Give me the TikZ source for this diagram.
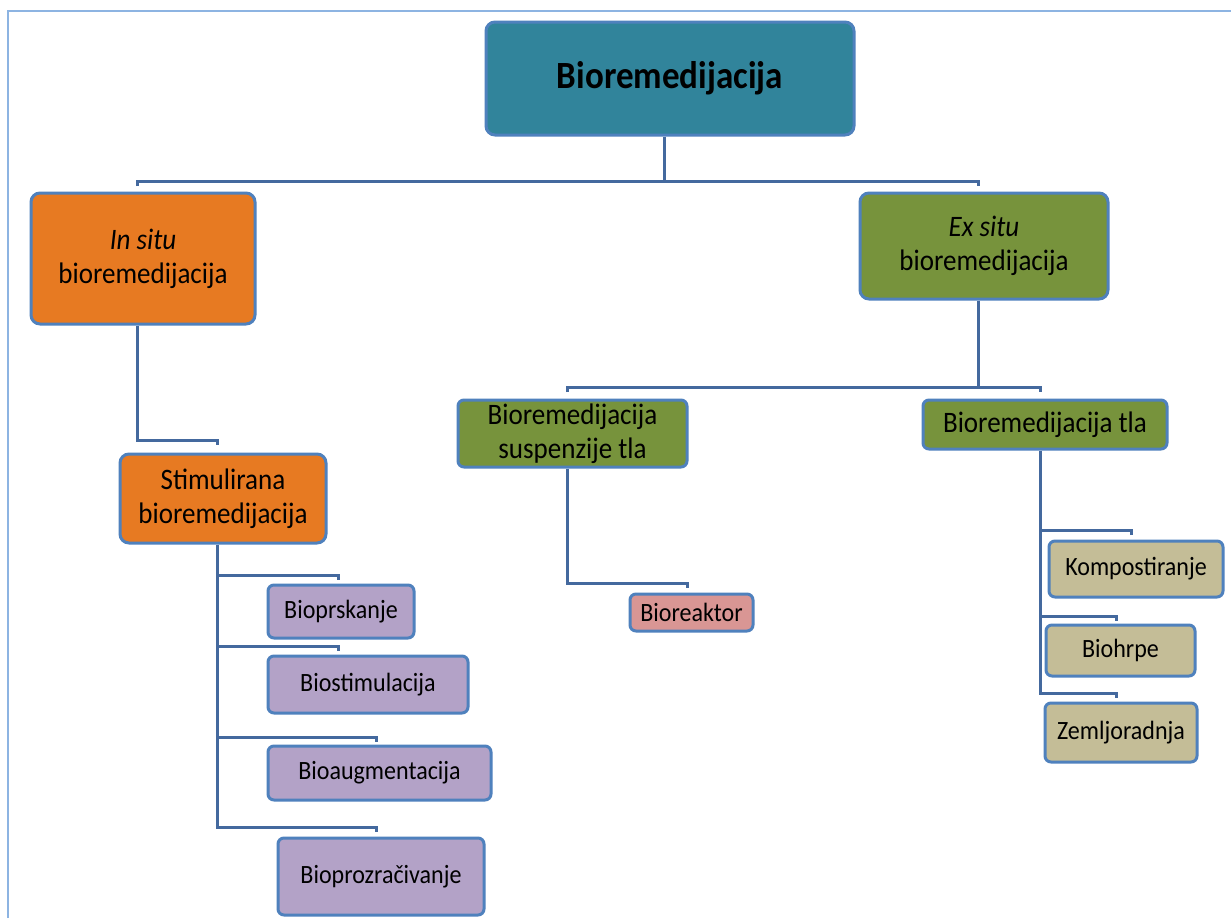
\documentclass[tikz,border=0pt]{standalone}
\usepackage{fontspec}
\setmainfont{Carlito}[FakeStretch=0.91]
\definecolor{bordcol}{HTML}{4F81BD}
\definecolor{conncol}{HTML}{44699E}
\definecolor{pagecol}{HTML}{8DB4E2}
\definecolor{teal}{HTML}{31849B}
\definecolor{orng}{HTML}{E77A22}
\definecolor{olive}{HTML}{77933C}
\definecolor{lilac}{HTML}{B3A2C7}
\definecolor{pinkc}{HTML}{D99694}
\definecolor{tan}{HTML}{C4BD97}
\tikzset{
  box/.style={draw=bordcol, line width=3pt, rounded corners=9pt, align=center, text=black, inner sep=2pt},
  lvl/.style={box, font=\fontsize{29.7}{34}\selectfont},
  leaf/.style={box, rounded corners=6pt, font=\fontsize{26.4}{30}\selectfont},
  conn/.style={draw=conncol, line width=3pt, line join=miter},
}
\begin{document}
\begin{tikzpicture}[x=1pt,y=-1pt]
\useasboundingbox (0,0) rectangle (1231,918);
\fill[white] (0,0) rectangle (1231,918);
\draw[pagecol, line width=2pt] (8,918) -- (8,11) -- (1231,11);

% nodes
\node[box, fill=teal, minimum width=368pt, minimum height=113pt, font=\fontsize{38.5}{44}\selectfont\bfseries] (root) at (670,78.5) {Bioremedijacija};
\node[lvl, fill=orng, minimum width=224pt, minimum height=131pt] (insitu) at (143,258.5) {\textit{In situ}\\bioremedijacija};
\node[lvl, fill=olive, minimum width=248pt, minimum height=106pt] (exsitu) at (984,246) {\textit{Ex situ}\\bioremedijacija};
\node[lvl, fill=orng, minimum width=206pt, minimum height=89pt] (stim) at (223,498.5) {Stimulirana\\bioremedijacija};
\node[lvl, fill=olive, minimum width=229pt, minimum height=67pt, rounded corners=6pt] (susp) at (572.5,433.5) {Bioremedijacija\\suspenzije tla};
\node[lvl, fill=olive, minimum width=244pt, minimum height=49pt, rounded corners=6pt] (tla) at (1045,424.5) {Bioremedijacija tla};

\node[leaf, fill=lilac, minimum width=146pt, minimum height=53pt] (prsk) at (341,611.5) {Bioprskanje};
\node[leaf, fill=lilac, minimum width=200pt, minimum height=57pt] (stimul) at (368,684.5) {Biostimulacija};
\node[leaf, fill=lilac, minimum width=223pt, minimum height=54pt] (augm) at (379.5,773) {Bioaugmentacija};
\node[leaf, fill=lilac, minimum width=206pt, minimum height=77pt] (proz) at (381,876.5) {Bioprozračivanje};
\node[leaf, fill=pinkc, minimum width=123pt, minimum height=37pt] (reakt) at (691.5,612.5) {Bioreaktor};
\node[leaf, fill=tan, minimum width=174pt, minimum height=56pt] (kompo) at (1136,569) {Kompostiranje};
\node[leaf, fill=tan, minimum width=149pt, minimum height=51pt] (hrpe) at (1120.5,650.5) {Biohrpe};
\node[leaf, fill=tan, minimum width=152pt, minimum height=59pt] (zemlj) at (1121,732.5) {Zemljoradnja};

% connector coordinates
\coordinate (a0) at (664,181);
\coordinate (a1) at (137,181);
\coordinate (a2) at (978,181);
\coordinate (b1) at (137,440);
\coordinate (b2) at (217,440);
\coordinate (c0) at (217,827);
\coordinate (c1) at (338,575);
\coordinate (c2) at (338,646);
\coordinate (c3) at (376,737);
\coordinate (c4) at (376,827);
\coordinate (d0) at (978,387);
\coordinate (d1) at (567,387);
\coordinate (d2) at (1040,387);
\coordinate (e0) at (567,583);
\coordinate (e1) at (687,583);
\coordinate (f0) at (1040,693);
\coordinate (f1) at (1131,530);
\coordinate (f2) at (1116,616);
\coordinate (f3) at (1116,693);

% connectors
\draw[conn] (a0 |- root.south) -- (a0);
\draw[conn] ([yshift=-5pt]a1) -- (a1) -- (a2) -- ([yshift=-5pt]a2);
\draw[conn] (b1 |- insitu.south) -- (b1) -- (b2) -- ([yshift=-5pt]b2);
\draw[conn] (c0 |- stim.south) -- (c0) -- (c4) -- ([yshift=-5pt]c4);
\draw[conn] (c0 |- c1) -- (c1) -- ([yshift=-5pt]c1);
\draw[conn] (c0 |- c2) -- (c2) -- ([yshift=-5pt]c2);
\draw[conn] (c0 |- c3) -- (c3) -- ([yshift=-5pt]c3);
\draw[conn] (d0 |- exsitu.south) -- (d0);
\draw[conn] ([yshift=-5pt]d1) -- (d1) -- (d2) -- ([yshift=-5pt]d2);
\draw[conn] (e0 |- susp.south) -- (e0) -- (e1) -- ([yshift=-5pt]e1);
\draw[conn] (f0 |- tla.south) -- (f0) -- (f3) -- ([yshift=-5pt]f3);
\draw[conn] (f0 |- f1) -- (f1) -- ([yshift=-5pt]f1);
\draw[conn] (f0 |- f2) -- (f2) -- ([yshift=-5pt]f2);
\end{tikzpicture}
\end{document}
